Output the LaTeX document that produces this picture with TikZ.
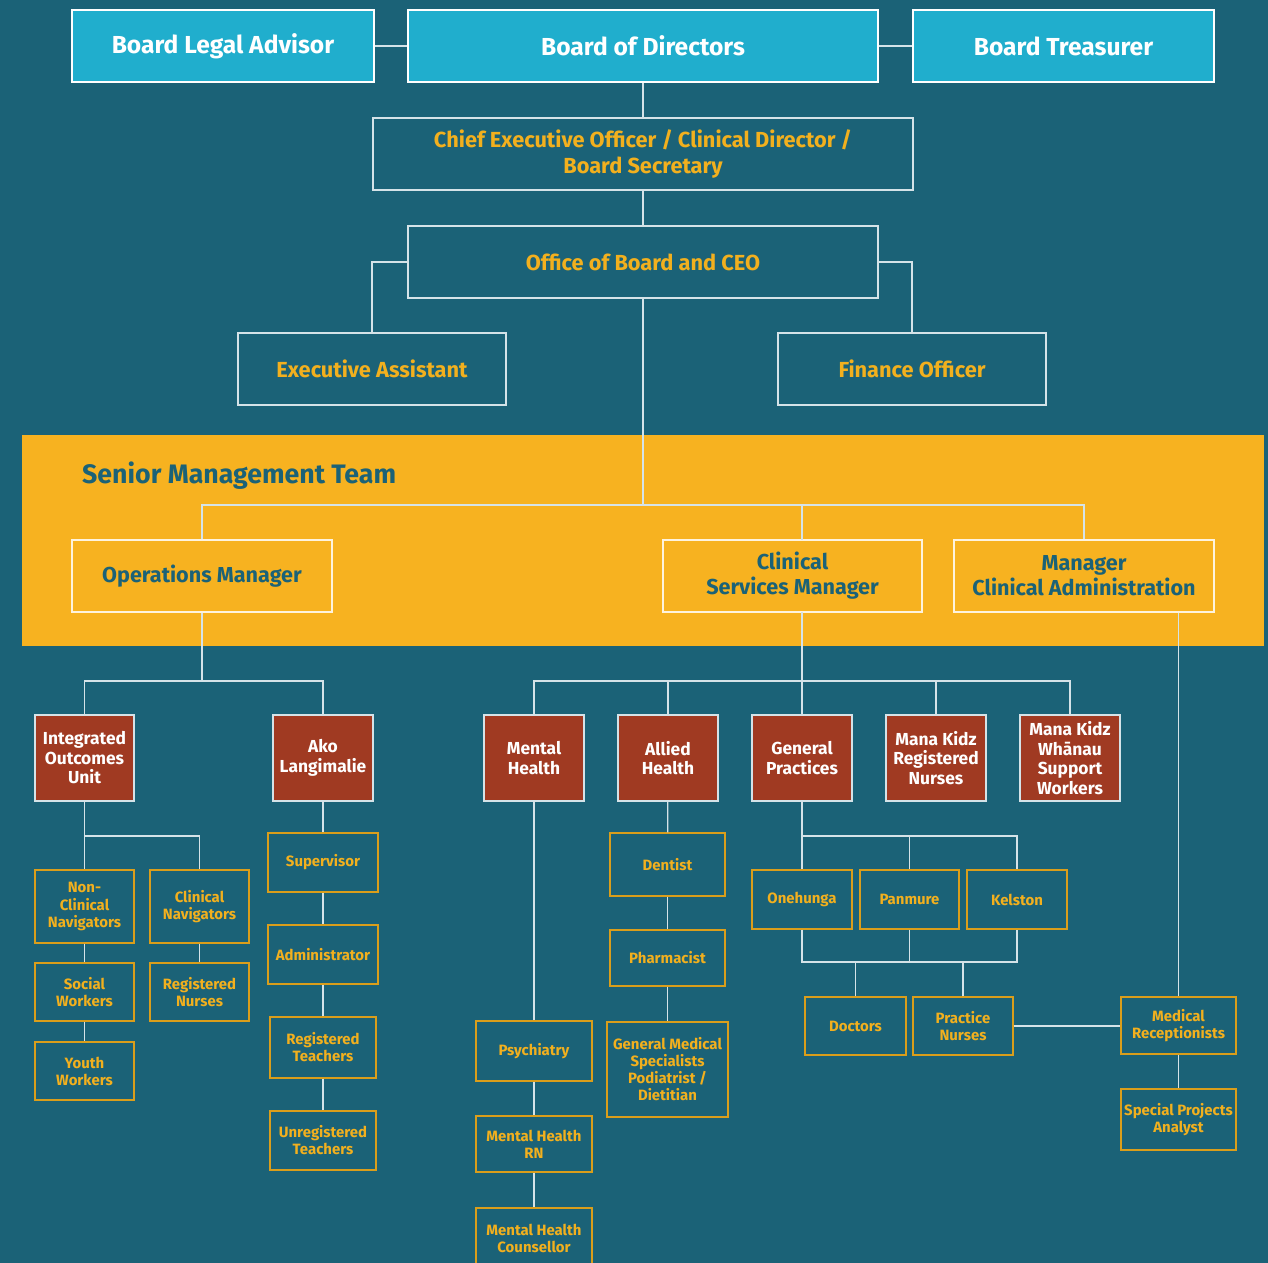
\documentclass[tikz,border=0pt]{standalone}
\usepackage{fontspec}
\setmainfont{Fira Sans}
\usepackage{tikz}

\definecolor{bgteal}{HTML}{1B6277}
\definecolor{boardcyan}{HTML}{20AECD}
\definecolor{smtyellow}{HTML}{F7B220}
\definecolor{unitrust}{HTML}{A03A22}
\definecolor{roleyellow}{HTML}{F2B01E}
\definecolor{linkgrey}{HTML}{D5E3E8}

\def\px{0.02cm}
\tikzset{
  wh/.style 2 args={minimum width=#1*\px, minimum height=#2*\px},
  box/.style={draw, line width=0.8pt, inner sep=1pt, align=center},
  board/.style={box, fill=boardcyan, draw=white, text=white,
    font=\bfseries\fontsize{14}{16}\selectfont},
  office/.style={box, draw=linkgrey, text=roleyellow,
    font=\bfseries\fontsize{12.4}{14.8}\selectfont},
  smt/.style={box, draw=white!85!smtyellow, text=bgteal,
    font=\bfseries\fontsize{12.3}{14.2}\selectfont},
  unit/.style={box, fill=unitrust, draw=linkgrey, text=white,
    font=\bfseries\fontsize{9.9}{11.1}\selectfont},
  role/.style={box, draw=roleyellow!90!black, text=roleyellow,
    font=\bfseries\fontsize{8.5}{9.7}\selectfont},
  link/.style={draw=linkgrey, line width=0.75pt},
}

\begin{document}
\begin{tikzpicture}[x=0.02cm, y=-0.02cm]
  \useasboundingbox (0,0) rectangle (1268,1263);
  \fill[bgteal] (0,0) rectangle (1268,1263);
  % senior management band
  \fill[smtyellow] (22,435) rectangle (1264,646);
  \node[anchor=west, text=bgteal, font=\bfseries\fontsize{15.2}{18}\selectfont]
    (smttitle) at (76,476) {Senior Management Team};

  % board
  \node[board, wh={302}{72}] (legal) at (223,46) {Board Legal Advisor};
  \node[board, wh={470}{72}] (dir) at (643,46) {Board of Directors};
  \node[board, wh={301}{72}] (treas) at (1063.5,46) {Board Treasurer};
  \node[office, wh={540}{72}] (ceo) at (643,154)
    {Chief Executive Officer / Clinical Director /\\Board Secretary};
  \node[office, wh={470}{72}] (off) at (643,262) {Office of Board and CEO};
  \node[office, wh={268}{72}] (ea) at (372,369) {Executive Assistant};
  \node[office, wh={268}{72}] (fin) at (912,369) {Finance Officer};

  % senior management team
  \node[smt, wh={260}{72}] (ops) at (202,576) {Operations Manager};
  \node[smt, wh={259}{72}] (csm) at (792.5,576) {Clinical\\Services Manager};
  \node[smt, wh={260}{72}] (mca) at (1084,576) {Manager\\Clinical Administration};

  % units
  \node[unit, wh={99}{86}] (iou) at (84.5,758) {Integrated\\Outcomes\\Unit};
  \node[unit, wh={100}{86}] (ako) at (323,758) {Ako\\Langimalie};
  \node[unit, wh={100}{86}] (mh) at (534,758) {Mental\\Health};
  \node[unit, wh={100}{86}] (ah) at (668,758) {Allied\\Health};
  \node[unit, wh={100}{86}] (gp) at (802,758) {General\\Practices};
  \node[unit, wh={100}{86}] (mkr) at (936,758) {Mana Kidz\\Registered\\Nurses};
  \node[unit, wh={100}{86}] (mkw) at (1070,758) {Mana Kidz\\Whānau\\Support\\Workers};

  % integrated outcomes unit
  \node[role, wh={99}{73}] (nonclin) at (84.5,906.5) {Non-\\Clinical\\Navigators};
  \node[role, wh={99}{73}] (clinnav) at (199.5,906.5) {Clinical\\Navigators};
  \node[role, wh={99}{58}] (social) at (84.5,992) {Social\\Workers};
  \node[role, wh={99}{58}] (regnurse) at (199.5,992) {Registered\\Nurses};
  \node[role, wh={99}{58}] (youth) at (84.5,1071) {Youth\\Workers};

  % ako langimalie
  \node[role, wh={110}{59}] (superv) at (323,862.5) {Supervisor};
  \node[role, wh={110}{59}] (admin) at (323,954.5) {Administrator};
  \node[role, wh={106}{61}] (regteach) at (323,1047.5) {Registered\\Teachers};
  \node[role, wh={106}{59}] (unregteach) at (323,1140.5) {Unregistered\\Teachers};

  % mental health
  \node[role, wh={116}{60}] (psych) at (534,1051) {Psychiatry};
  \node[role, wh={116}{56}] (mhrn) at (534,1144) {Mental Health\\RN};
  \node[role, wh={116}{60}] (mhc) at (534,1238) {Mental Health\\Counsellor};

  % allied health
  \node[role, wh={115}{63}] (dent) at (667.5,864.5) {Dentist};
  \node[role, wh={115}{56}] (pharm) at (667.5,958) {Pharmacist};
  \node[role, wh={121}{95}] (gms) at (667.5,1069.5)
    {General Medical\\Specialists\\Podiatrist /\\Dietitian};

  % general practices
  \node[role, wh={100}{59}] (oneh) at (802,899.5) {Onehunga};
  \node[role, wh={99}{59}] (panm) at (909.5,899.5) {Panmure};
  \node[role, wh={100}{59}] (kels) at (1017,899.5) {Kelston};
  \node[role, wh={101}{58}] (doc) at (855.5,1026) {Doctors};
  \node[role, wh={100}{58}] (pn) at (963,1026) {Practice\\Nurses};

  % clinical administration
  \node[role, wh={115}{57}] (medrec) at (1178.5,1025.5) {Medical\\Receptionists};
  \node[role, wh={115}{61}] (spa) at (1178.5,1119.5) {Special Projects\\Analyst};

  % bus points
  \coordinate (smtbus) at (643,505);
  \coordinate (csmtop) at (802,540);
  \coordinate (csmbot) at (802,612);
  \coordinate (opsbus) at (202,681);
  \coordinate (csmbus) at (802,681);
  \coordinate (ioubus) at (84.5,836);
  \coordinate (gpbus) at (802,836);
  \coordinate (sitebus) at (802,962);

  % connectors
  \draw[link] (legal) -- (dir);
  \draw[link] (dir) -- (treas);
  \draw[link] (dir) -- (ceo);
  \draw[link] (ceo) -- (off);
  \draw[link] (off.west) -| (ea.north);
  \draw[link] (off.east) -| (fin.north);
  \draw[link] (off.south) -- (smtbus);
  \draw[link] (ops.north) |- (smtbus) -| (mca.north);
  \draw[link] (smtbus -| csmtop) -- (csmtop);

  \draw[link] (ops.south) -- (opsbus);
  \draw[link] (iou.north) |- (opsbus) -| (ako.north);
  \draw[link] (csmbot) -- (csmbus);
  \draw[link] (mh.north) |- (csmbus) -| (mkw.north);
  \foreach \n in {ah,gp,mkr}
    \draw[link] (csmbus -| \n.north) -- (\n.north);
  \draw[link] (mca.south -| medrec.north) -- (medrec.north);

  \draw[link] (iou) -- (nonclin);
  \draw[link] (ioubus) -| (clinnav.north);
  \draw[link] (nonclin) -- (social);
  \draw[link] (social) -- (youth);
  \draw[link] (clinnav) -- (regnurse);

  \draw[link] (ako) -- (superv);
  \draw[link] (superv) -- (admin);
  \draw[link] (admin) -- (regteach);
  \draw[link] (regteach) -- (unregteach);

  \draw[link] (mh) -- (psych);
  \draw[link] (psych) -- (mhrn);
  \draw[link] (mhrn) -- (mhc);

  \draw[link] (ah) -- (dent);
  \draw[link] (dent) -- (pharm);
  \draw[link] (pharm) -- (gms);

  \draw[link] (gp) -- (oneh);
  \draw[link] (gpbus) -| (kels.north);
  \draw[link] (gpbus -| panm.north) -- (panm.north);
  \draw[link] (oneh.south) -- (sitebus) -| (kels.south);
  \draw[link] (panm.south) -- (panm.south |- sitebus);
  \draw[link] (doc.north) -- (doc.north |- sitebus);
  \draw[link] (pn.north) -- (pn.north |- sitebus);
  \draw[link] (pn.east) -- (pn.east -| medrec.west);
  \draw[link] (medrec) -- (spa);
\end{tikzpicture}
\end{document}
